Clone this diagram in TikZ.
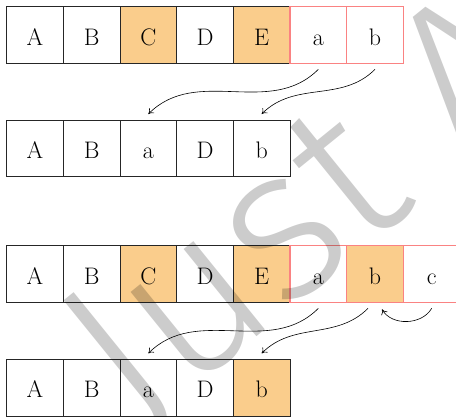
\documentclass[tikz,border=0pt]{standalone}
\usepackage{fontspec}
\newfontfamily\wmfont{Fira Sans Light}
\usetikzlibrary{arrows.meta}
\definecolor{cellorange}{RGB}{250,205,140}
\definecolor{cellred}{RGB}{250,130,130}
\begin{document}
\begin{tikzpicture}[x=1bp,y=-1bp,
  cell/.style={draw=black!85, line width=0.8bp, minimum width=56.67bp, minimum height=56.67bp,
    inner sep=0pt, outer sep=0pt, text height=20bp, text depth=0pt,
    font=\fontsize{24}{28}\selectfont, anchor=north west},
  hl/.style={fill=cellorange},
  newcell/.style={draw=cellred, line width=1.2bp},
  mv/.style={-{To[length=5bp,width=7bp]}, line width=0.6bp},
  wm/.style={anchor=base west, rotate=39, opacity=0.2, text=black, inner sep=0pt,
    font=\wmfont\fontsize{218}{218}\selectfont}
]
\useasboundingbox (0,0) rectangle (456,416);
% row 1
\node[cell] (r1a) at (6.67,6.67) {A};
\node[cell] (r1b) at (63.33,6.67) {B};
\node[cell,hl] (r1c) at (120,6.67) {C};
\node[cell] (r1d) at (176.67,6.67) {D};
\node[cell,hl] (r1e) at (233.33,6.67) {E};
\node[cell,newcell] (r1f) at (290,6.67) {a};
\node[cell,newcell] (r1g) at (346.67,6.67) {b};
% row 2
\node[cell] (r2a) at (6.67,120) {A};
\node[cell] (r2b) at (63.33,120) {B};
\node[cell] (r2c) at (120,120) {a};
\node[cell] (r2d) at (176.67,120) {D};
\node[cell] (r2e) at (233.33,120) {b};
% row 3
\node[cell] (r3a) at (6.67,245.67) {A};
\node[cell] (r3b) at (63.33,245.67) {B};
\node[cell,hl] (r3c) at (120,245.67) {C};
\node[cell] (r3d) at (176.67,245.67) {D};
\node[cell,hl] (r3e) at (233.33,245.67) {E};
\node[cell,newcell] (r3f) at (290,245.67) {a};
\node[cell,newcell,hl] (r3g) at (346.67,245.67) {b};
\node[cell,newcell] (r3h) at (403.33,245.67) {c};
% row 4
\node[cell] (r4a) at (6.67,359.33) {A};
\node[cell] (r4b) at (63.33,359.33) {B};
\node[cell] (r4c) at (120,359.33) {a};
\node[cell] (r4d) at (176.67,359.33) {D};
\node[cell,hl] (r4e) at (233.33,359.33) {b};
% arrows
\draw[mv] ([yshift=-6bp]r1f.south) to[out=-135,in=45] ([yshift=6bp]r2c.north);
\draw[mv] ([yshift=-6bp]r1g.south) to[out=-135,in=45] ([yshift=6bp]r2e.north);
\draw[mv] ([yshift=-6bp]r3f.south) to[out=-135,in=45] ([yshift=6bp]r4c.north);
\draw[mv] ([xshift=-7bp,yshift=-6bp]r3g.south) to[out=-135,in=45] ([yshift=6bp]r4e.north);
\draw[mv] ([yshift=-6bp]r3h.south) to[out=-120,in=-60] ([xshift=7bp,yshift=-7bp]r3g.south);
% watermark
\node[wm] (mark) at (136,434) {Just A};
\end{tikzpicture}
\end{document}
